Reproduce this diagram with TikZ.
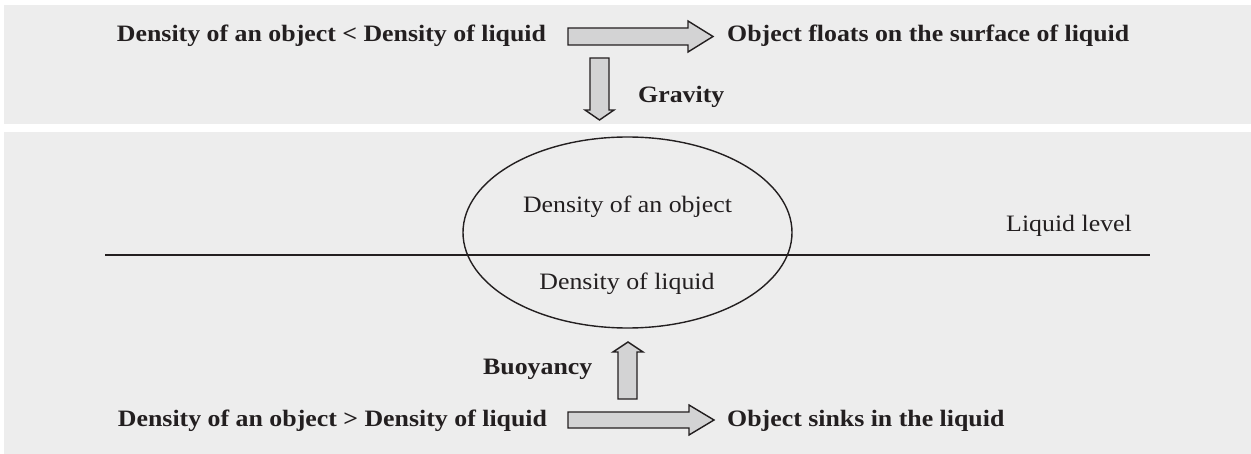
\documentclass[tikz,border=0pt]{standalone}
\usepackage{fontspec}
\setmainfont[FakeStretch=1.1]{Liberation Serif}
\definecolor{panel}{HTML}{EDEDED}
\definecolor{arrfill}{HTML}{D3D3D4}
\definecolor{ink}{HTML}{231F20}
\begin{document}
\begin{tikzpicture}[x=1pt,y=-1pt,
  every node/.style={inner sep=0pt, text=ink, font=\fontsize{23.5}{27}\selectfont},
  boldtxt/.style={font=\fontsize{23.5}{27}\selectfont\bfseries},
  blockarrow/.style={draw=ink, fill=arrfill, line width=1.4pt, line join=miter},
  panelbox/.style={fill=panel, draw=none}]
\useasboundingbox (0,0) rectangle (1251,454);
\fill[white] (0,0) rectangle (1251,454);
% panels
\path[panelbox] (4,5) rectangle (1251,124);
\path[panelbox] (4,132) rectangle (1251,454);
% top row
\node[boldtxt, anchor=base] (lt) at (331.5,42) {Density of an object < Density of liquid};
\node[boldtxt, anchor=base west] (rt) at (727,42) {Object floats on the surface of liquid};
\draw[blockarrow] (568,28) -- (688,28) -- (688,21) -- (713,36.5) -- (688,52) -- (688,45) -- (568,45) -- cycle;
% gravity arrow
\draw[blockarrow] (590,58) -- (609,58) -- (609,110) -- (614,110) -- (599.5,120) -- (585,110) -- (590,110) -- cycle;
\node[boldtxt, anchor=base west] (grav) at (638,103) {Gravity};
% liquid level and ellipse
\coordinate (ll1) at (105,255);
\coordinate (ll2) at (1150,255);
\draw[ink, line width=1.4pt] (ll1) -- (ll2);
\draw[ink, line width=1.4pt] (627.5,232.5) ellipse [x radius=164.5, y radius=95.5];
\node[anchor=base] (dob) at (627.5,213) {Density of an object};
\node[anchor=base] (dli) at (627,290) {Density of liquid};
\node[anchor=base west] (lvl) at (1006,232) {Liquid level};
% buoyancy arrow
\draw[blockarrow] (618,399) -- (637,399) -- (637,352) -- (643,352) -- (628,342) -- (613,352) -- (618,352) -- cycle;
\node[boldtxt, anchor=base west] (buoy) at (483,374) {Buoyancy};
% bottom row
\node[boldtxt, anchor=base] (lb) at (332.5,427) {Density of an object > Density of liquid};
\node[boldtxt, anchor=base west] (rb) at (727,427) {Object sinks in the liquid};
\draw[blockarrow] (568,412) -- (689,412) -- (689,405) -- (714,420) -- (689,435) -- (689,428) -- (568,428) -- cycle;
\end{tikzpicture}
\end{document}
